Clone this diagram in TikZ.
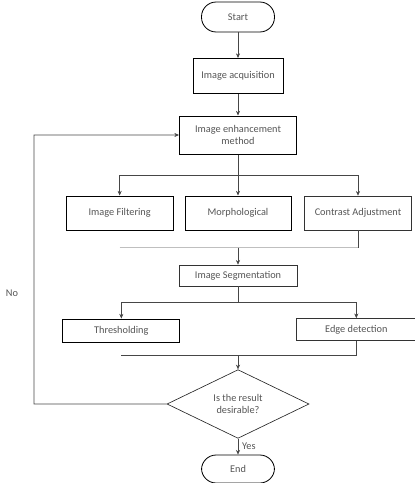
\documentclass[tikz,border=0pt]{standalone}
\usepackage{fontspec}
\setmainfont{Carlito}
\usepackage{xcolor}
\usetikzlibrary{positioning, shapes.geometric, arrows.meta, calc}

\definecolor{txtgray}{RGB}{85,85,85}
\definecolor{linegray}{RGB}{70,70,70}

\begin{document}
\begin{tikzpicture}[node distance=1.8cm, on grid,
    every node/.style={font=\fontsize{8.8}{10.5}\selectfont, text=txtgray},
    box/.style={draw=black, line width=0.85pt, rectangle, minimum height=1.02cm, align=center},
    thinbox/.style={draw=black!80, line width=0.55pt, rectangle, align=center},
    term/.style={draw=black, line width=0.7pt, rectangle, rounded corners=0.44cm, minimum width=2.19cm},
    decision/.style={draw=black!85, line width=0.55pt, diamond, inner sep=0pt, minimum width=4.26cm, minimum height=1.62cm, align=center},
    line/.style={draw=linegray, line width=0.5pt},
    arrow/.style={line, -{Stealth[length=4pt, width=3.5pt]}}]
   \useasboundingbox (0,0) rectangle (12.45,-14.49);

   % main column
   \node[term, minimum height=0.9cm] (start) at (7.14,-0.51) {Start};
   \node[box, minimum width=2.7cm, minimum height=1.05cm] (acq) [below=1.77cm of start] {Image acquisition};
   \node[box, minimum width=3.51cm, minimum height=1.14cm] (enh) [below=1.77cm of acq] {Image enhancement\\method};

   % enhancement methods
   \node[box, minimum width=3.18cm] (morph) [below=2.34cm of enh] {Morphological};
   \node[box, minimum width=3.21cm] (filt) [left=3.55cm of morph] {Image Filtering};
   \node[thinbox, minimum width=3.21cm, minimum height=1.02cm] (contr) [right=3.6cm of morph] {Contrast Adjustment};

   % segmentation
   \node[thinbox, minimum width=3.54cm, minimum height=0.63cm] (seg) [below=1.875cm of morph] {Image Segmentation};
   \node[box, minimum width=3.51cm, minimum height=0.69cm] (thr) [below left=1.65cm and 3.5cm of seg] {Thresholding};
   \node[thinbox, minimum width=3.6cm, minimum height=0.66cm] (edge) [below right=1.62cm and 3.55cm of seg] {Edge detection};

   % check and end
   \node[decision] (dec) [below=3.855cm of seg] {Is the result\\desirable?};
   \node[term, minimum height=0.84cm] (end) [below=1.95cm of dec] {End};

   \node (no) at (0.36,-8.79) {No};

   % junctions
   \coordinate (split1) at ($(enh.south)!0.5!(morph.north)$);
   \coordinate (join1) at ($(morph.south)!0.5!(seg.north)$);
   \coordinate (split2) at ($(seg.south)!0.5!(seg.south |- thr.north)$);
   \coordinate (join2) at ($(dec.north)!0.5!(dec.north |- edge.south)$);
   \coordinate (back) at (1.02,-12.12);

   \draw[arrow] (start) -- (acq);
   \draw[arrow] (acq) -- (enh);

   \draw[line] (enh) -- (split1);
   \draw[arrow] (split1) -| (filt.north);
   \draw[arrow] (split1) -- (morph.north);
   \draw[arrow] (split1) -| (contr.north);

   \draw[line, draw=black!25] (join1 -| filt) -- (join1 -| contr);
   \draw[line] (contr.south) -- (contr.south |- join1);
   \draw[arrow] (join1) -- (seg);

   \draw[line] (seg) -- (split2);
   \draw[arrow] (split2) -| (thr.north);
   \draw[arrow] (split2) -| (edge.north);

   \draw[line] (edge.south) -- (edge.south |- join2) -- (join2 -| thr);
   \draw[arrow] (join2) -- (dec);

   \draw[arrow] (dec.west) -- (back) |- (enh.west);
   \draw[arrow] (dec) -- node[right, pos=0.45] {Yes} (end);
\end{tikzpicture}
\end{document}
